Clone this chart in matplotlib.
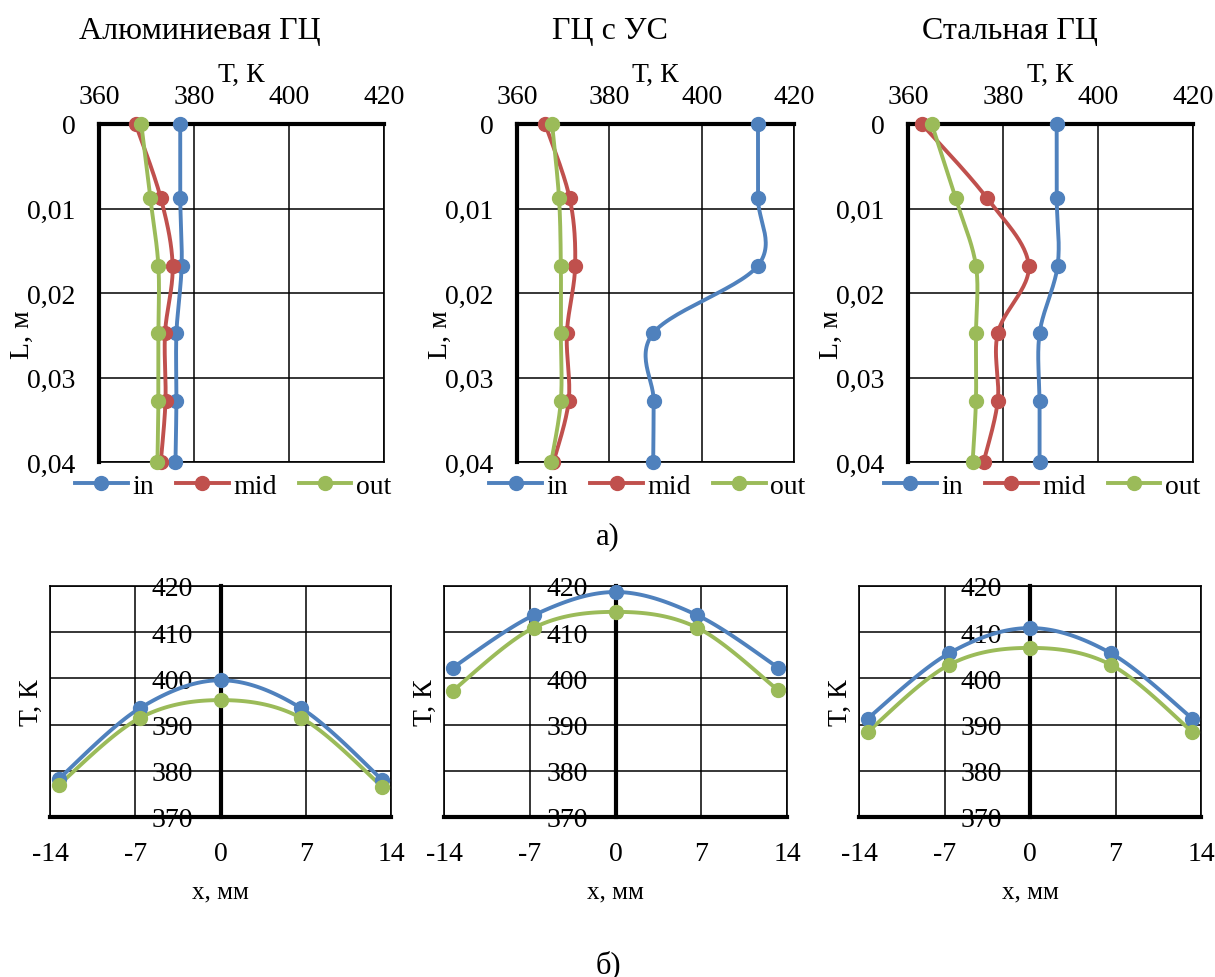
#Temperature profiles of the heat pipes: along the length (a) and across the section (b)
import numpy as np
import matplotlib
matplotlib.use("Agg")
import matplotlib.pyplot as plt
from matplotlib.ticker import FixedLocator, FixedFormatter

plt.rcParams['font.family'] = ['Liberation Serif', 'DejaVu Serif']
plt.rcParams['axes.unicode_minus'] = False

# panel titles
titles = ["Алюминиевая ГЦ", "ГЦ с УС", "Стальная ГЦ"]

# length coordinate, m
L = [0, 0.00875, 0.01675, 0.02475, 0.03275, 0.04]

# temperature along the length, K
T_in = [[377.1, 377.1, 377.4, 376.3, 376.3, 376.1],
        [412.2, 412.2, 412.2, 389.5, 389.6, 389.5],
        [391.3, 391.3, 391.5, 387.7, 387.7, 387.7]]
T_mid = [[367.7, 373.0, 375.5, 373.9, 374.0, 373.0],
         [366.1, 371.4, 372.6, 370.8, 371.2, 367.9],
         [362.9, 376.6, 385.4, 378.9, 378.9, 375.9]]
T_out = [[368.9, 370.8, 372.5, 372.5, 372.5, 372.3],
         [367.6, 369.1, 369.5, 369.5, 369.5, 367.4],
         [365.0, 370.0, 374.3, 374.3, 374.3, 373.6]]

# cross-section coordinate, mm
x_mm = [-13.3, -6.65, 0, 6.65, 13.3]

# temperature across the section, K
Tx_in = [[378.2, 393.5, 399.6, 393.5, 378.0],
         [402.3, 413.7, 418.7, 413.7, 402.3],
         [391.3, 405.4, 410.9, 405.4, 391.3]]
Tx_out = [[376.9, 391.4, 395.3, 391.4, 376.5],
          [397.3, 411.0, 414.4, 411.0, 397.4],
          [388.4, 402.9, 406.6, 402.9, 388.4]]

c_in = '#4F81BD'
c_mid = '#C0504D'
c_out = '#9BBB59'

W, H = 1215, 978
fig = plt.figure(figsize=(W / 100, H / 100), dpi=100)


def px_axes(left, top, right, bottom):
    return fig.add_axes([left / W, 1 - bottom / H, (right - left) / W, (bottom - top) / H])


def px_text(x, y, s, **kw):
    fig.text(x / W, 1 - y / H, s, ha='center', va='center', **kw)


#smoothed line like the spreadsheet one (cardinal bezier, tension 1/6)
def smooth(xs, ys, n=30):
    p = np.column_stack([xs, ys]).astype(float)
    pts = [p[0]]
    for i in range(len(p) - 1):
        p0 = p[i - 1] if i > 0 else p[i]
        p3 = p[i + 2] if i + 2 < len(p) else p[i + 1]
        b0 = p[i]
        b1 = p[i] + (p[i + 1] - p0) / 6
        b2 = p[i + 1] - (p3 - p[i]) / 6
        b3 = p[i + 1]
        t = np.linspace(0, 1, n)[1:, None]
        seg = (1 - t) ** 3 * b0 + 3 * (1 - t) ** 2 * t * b1 + 3 * (1 - t) * t ** 2 * b2 + t ** 3 * b3
        pts.extend(seg)
    pts = np.array(pts)
    return pts[:, 0], pts[:, 1]


lw = 2.8
ms = 10


def series(ax, xs, ys, color, label=None):
    sx, sy = smooth(xs, ys)
    ax.plot(sx, sy, color=color, lw=lw, solid_capstyle='round', zorder=3, clip_on=False)
    ax.plot(xs, ys, 'o', color=color, ms=ms, zorder=4, clip_on=False)
    # proxy handle for the legend
    return ax.plot([], [], '-o', color=color, lw=lw, ms=ms, label=label)[0]


fs = 20

# ---- top row: T along L ----
top_boxes = [(99, 125, 384, 463), (517, 125, 794, 463), (908, 125, 1193, 463)]
title_x = [200, 610, 1010]
for k in range(3):
    left, top, right, bottom = top_boxes[k]
    ax = px_axes(left, top, right, bottom)
    h1 = series(ax, T_in[k], L, c_in, 'in')
    h2 = series(ax, T_mid[k], L, c_mid, 'mid')
    h3 = series(ax, T_out[k], L, c_out, 'out')
    ax.set_xlim(360, 420)
    ax.set_ylim(0.04, 0)
    ax.xaxis.tick_top()
    ax.xaxis.set_major_locator(FixedLocator([360, 380, 400, 420]))
    ax.yaxis.set_major_locator(FixedLocator([0, 0.01, 0.02, 0.03, 0.04]))
    ax.yaxis.set_major_formatter(FixedFormatter(['0', '0,01', '0,02', '0,03', '0,04']))
    ax.tick_params(length=0, labelsize=fs)
    ax.tick_params(axis='x', pad=11)
    ax.tick_params(axis='y', pad=17)
    ax.grid(True, color='black', lw=1.1)
    ax.set_axisbelow(True)
    for s in ['right', 'bottom']:
        ax.spines[s].set_linewidth(1.2)
    for s in ['left', 'top']:
        ax.spines[s].set_linewidth(3)
    px_text(left - 77, 335, 'L, м', fontsize=fs, rotation=90)
    px_text((left + right) / 2, 75, 'Т, К', fontsize=fs)
    px_text(title_x[k], 32, titles[k], fontsize=23)
    ax.legend(handles=[h1, h2, h3], loc='center', bbox_to_anchor=(0.47, -0.072),
              ncol=3, frameon=False, fontsize=fs, handlelength=1.9, handletextpad=0.15,
              columnspacing=0.8, borderpad=0.0, borderaxespad=0.0)

px_text(608, 537, 'а)', fontsize=22)

# ---- bottom row: T across the section ----
bot_boxes = [(50, 587, 391, 818), (444, 587, 787, 818), (859, 587, 1201, 818)]
for k in range(3):
    left, top, right, bottom = bot_boxes[k]
    ax = px_axes(left, top, right, bottom)
    series(ax, x_mm, Tx_in[k], c_in)
    series(ax, x_mm, Tx_out[k], c_out)
    ax.set_xlim(-14, 14)
    ax.set_ylim(370, 420)
    ax.xaxis.set_major_locator(FixedLocator([-14, -7, 0, 7, 14]))
    ax.yaxis.set_major_locator(FixedLocator([370, 380, 390, 400, 410, 420]))
    ax.spines['left'].set_position(('data', 0))
    ax.spines['left'].set_linewidth(3)
    ax.spines['bottom'].set_linewidth(3)
    for s in ['right', 'top']:
        ax.spines[s].set_linewidth(1.2)
    ax.tick_params(length=0, labelsize=fs)
    ax.tick_params(axis='y', pad=20)
    ax.tick_params(axis='x', pad=17)
    ax.grid(True, color='black', lw=1.1)
    ax.set_axisbelow(True)
    ax.plot([-14, -14], [370, 420], color='black', lw=1.2, clip_on=False, zorder=1)
    px_text(left - 19, (top + bottom) / 2, 'Т, К', fontsize=fs, rotation=90)
    px_text((left + right) / 2, 892, 'x, мм', fontsize=18)

px_text(608, 965, 'б)', fontsize=22)

plt.savefig("out.png", dpi=100)
